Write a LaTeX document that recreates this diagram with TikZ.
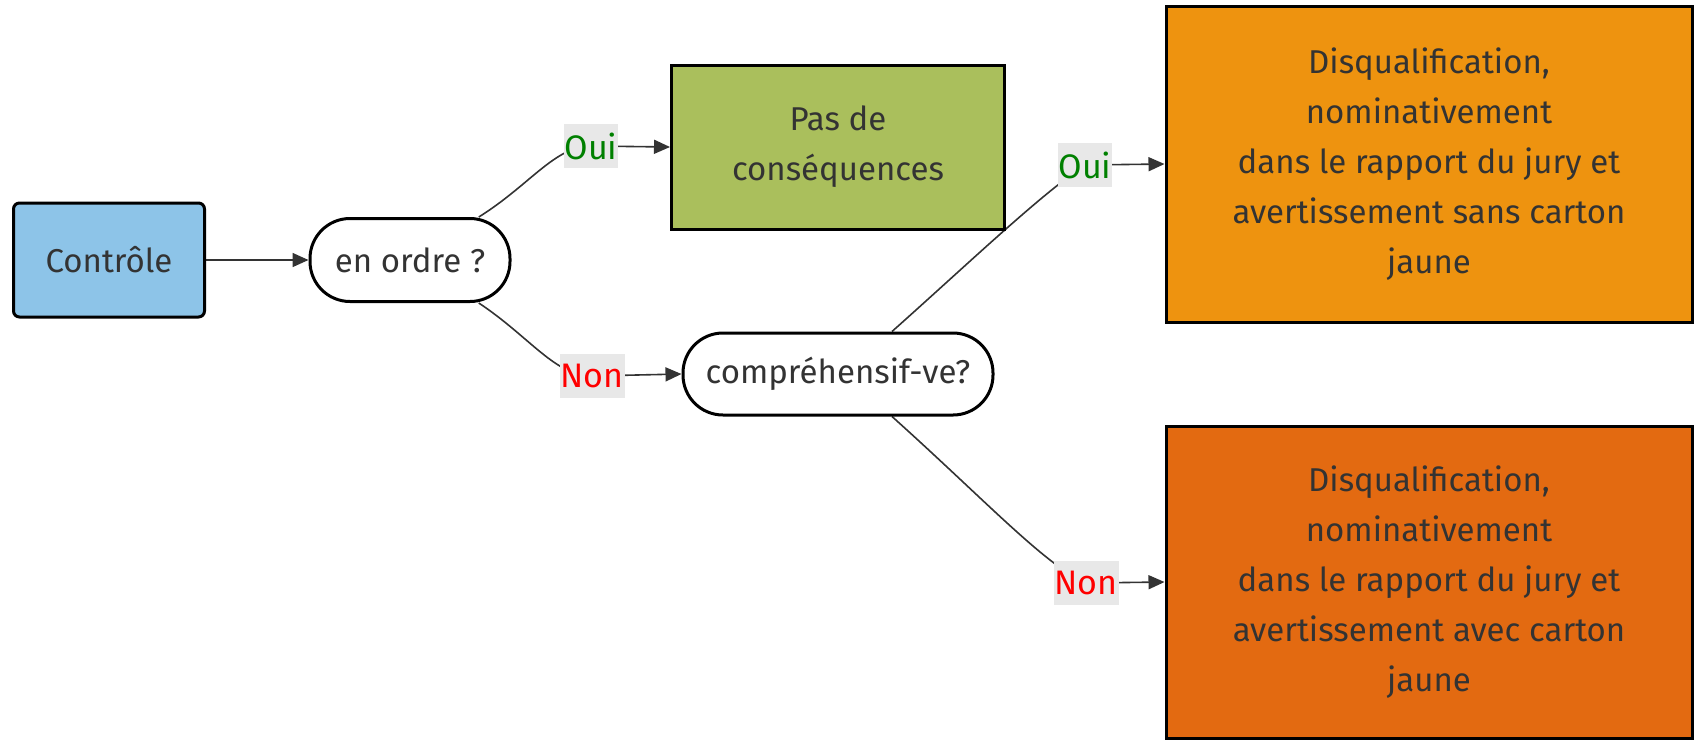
\documentclass[tikz,border=0pt]{standalone}
\usepackage{fontspec}
\setmainfont{Fira Sans}
\usetikzlibrary{arrows.meta,backgrounds,calc}
\definecolor{txt}{HTML}{333333}
\definecolor{cblue}{HTML}{8DC4E8}
\definecolor{cgreen}{HTML}{AABF5C}
\definecolor{corange}{HTML}{EE930F}
\definecolor{cdark}{HTML}{E36A11}
\definecolor{lblbg}{HTML}{E8E8E8}
\definecolor{ouicol}{HTML}{008000}
\definecolor{noncol}{HTML}{FF0000}
\tikzset{
  base/.style={draw=black, line width=3pt, text=txt, align=center,
    font=\fontsize{33}{50}\selectfont, inner sep=0pt},
  roundbox/.style={base, rounded corners=6pt},
  sqbox/.style={base},
  stadium/.style={base, fill=white, rounded corners=40pt},
  lbl/.style={fill=lblbg, inner xsep=1pt, inner ysep=0pt, minimum height=44pt,
    font=\fontsize{34}{36}\selectfont},
  edge/.style={draw=txt, line width=1.6pt, -{Triangle[length=16pt,width=14pt]}},
}
\begin{document}
\begin{tikzpicture}[x=1pt,y=-1pt]
\useasboundingbox (0,0) rectangle (1694,740);
\node[roundbox, fill=cblue, minimum width=191pt, minimum height=114pt] (ctrl) at (109,260) {Contrôle};
\node[stadium, minimum width=200pt, minimum height=83pt] (ordre) at (410,260) {en ordre ?};
\node[sqbox, fill=cgreen, minimum width=333pt, minimum height=164pt] (pas) at (838,147) {Pas de\\conséquences};
\node[stadium, minimum width=310pt, minimum height=82pt] (comp) at (838,374) {compréhensif-ve?};
\node[sqbox, fill=corange, minimum width=526pt, minimum height=316pt] (sans) at (1429,164)
  {Disqualification,\\nominativement\\ dans le rapport du jury et\\avertissement sans carton\\jaune};
\node[sqbox, fill=cdark, minimum width=526pt, minimum height=312pt] (avec) at (1429,582)
  {Disqualification,\\nominativement\\ dans le rapport du jury et\\avertissement avec carton\\jaune};
\node[lbl, text=ouicol] (oui1) at (591,146) {Oui};
\node[lbl, text=noncol] (non1) at (592,376) {Non};
\node[lbl, text=ouicol] (oui2) at (1085,165) {Oui};
\node[lbl, text=noncol] (non2) at (1086,583) {Non};
\begin{scope}[on background layer]
\draw[edge] (ctrl.east) -- (ordre.west);
\draw[edge] (ordre.32) .. controls (530,185) and (555,146) .. (oui1.center) -- (pas.west);
\draw[edge] (ordre.-32) .. controls (530,337) and (555,376) .. (non1.center) -- (comp.west);
\draw[edge] ($(comp.north)+(54,0)$) .. controls (970,262) and (1040,195) .. (oui2.center) -- (sans.west);
\draw[edge] ($(comp.south)+(54,0)$) .. controls (985,500) and (1045,565) .. (non2.center) -- (avec.west);
\end{scope}
\end{tikzpicture}
\end{document}
